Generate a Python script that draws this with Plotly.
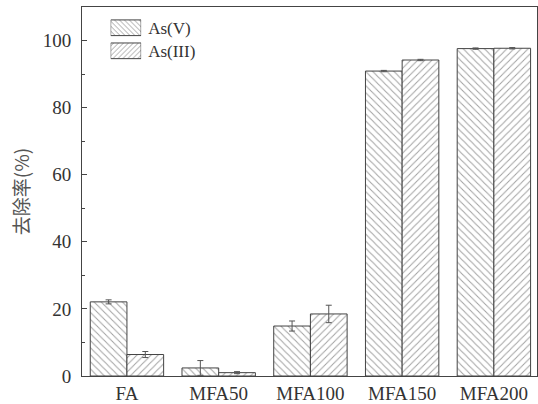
import plotly.graph_objects as go

# Removal efficiency of As(V) and As(III) by each adsorbent
categories = ["FA", "MFA50", "MFA100", "MFA150", "MFA200"]
series_names = ["As(V)", "As(III)"]
as5_removal = [22.1, 2.4, 14.9, 90.9, 97.6]
as5_error = [0.6, 2.2, 1.5, 0.2, 0.2]
as3_removal = [6.4, 1.0, 18.5, 94.2, 97.7]
as3_error = [0.9, 0.3, 2.6, 0.2, 0.2]
y_ticks = [0, 20, 40, 60, 80, 100]

INK = "#444444"
SERIF = "Liberation Serif"
hatches = ["\\", "/"]

fig = go.Figure()
for name, vals, errs, hatch in zip(series_names, [as5_removal, as3_removal],
                                   [as5_error, as3_error], hatches):
    fig.add_trace(go.Bar(
        x=categories, y=vals, name=name,
        marker=dict(color="white",
                    line=dict(color=INK, width=1),
                    pattern=dict(shape=hatch, fgcolor=INK, bgcolor="white",
                                 size=5, solidity=0.2)),
        error_y=dict(type="data", array=errs, visible=True,
                     color="#555555", thickness=1, width=3),
        showlegend=False,
    ))

# Legend key: wide hatched swatches in a small inset axis
key_pos = list(range(len(series_names)))
fig.add_trace(go.Bar(
    y=key_pos, x=[1] * len(series_names), orientation="h", width=0.68,
    xaxis="x2", yaxis="y2", showlegend=False, hoverinfo="skip",
    marker=dict(color="white",
                line=dict(color=INK, width=1),
                pattern=dict(shape=hatches, fgcolor=INK, bgcolor="white",
                             size=3.5, solidity=0.28)),
))

fig.update_layout(
    width=538, height=404,
    margin=dict(l=82, r=1, t=7, b=28),
    paper_bgcolor="white", plot_bgcolor="white",
    barmode="group", bargap=0.2, bargroupgap=0,
    font=dict(family=SERIF, size=19, color="#333333"),
    xaxis=dict(
        type="category", range=[-0.49, 4.47],
        showline=True, linecolor=INK, linewidth=1, mirror=True,
        ticks="", showgrid=False, zeroline=False,
        tickfont=dict(family=SERIF, size=19, color="#333333"),
    ),
    yaxis=dict(
        range=[0, 110], tickvals=y_ticks,
        showline=True, linecolor=INK, linewidth=1, mirror=True,
        ticks="inside", ticklen=5, tickcolor=INK, tickwidth=1,
        minor=dict(dtick=10, ticks="inside", ticklen=3, tickcolor=INK),
        showgrid=False, zeroline=False, ticklabelstandoff=6,
        tickfont=dict(family=SERIF, size=19, color="#333333"),
        title=dict(text="去除率(%)", standoff=8,
                   font=dict(family="Noto Sans CJK SC", size=19,
                             color="#555555")),
    ),
    xaxis2=dict(domain=[0.063, 0.130], range=[0, 1], anchor="y2",
                visible=False, fixedrange=True),
    yaxis2=dict(domain=[0.850, 0.975], anchor="x2", side="right",
                range=[1.5, -0.5], tickmode="array", tickvals=key_pos,
                ticktext=series_names,
                showline=False, showgrid=False, zeroline=False, ticks="",
                ticklabelstandoff=6, fixedrange=True,
                tickfont=dict(family=SERIF, size=17, color="#333333")),
)

fig.write_html("out.html")
